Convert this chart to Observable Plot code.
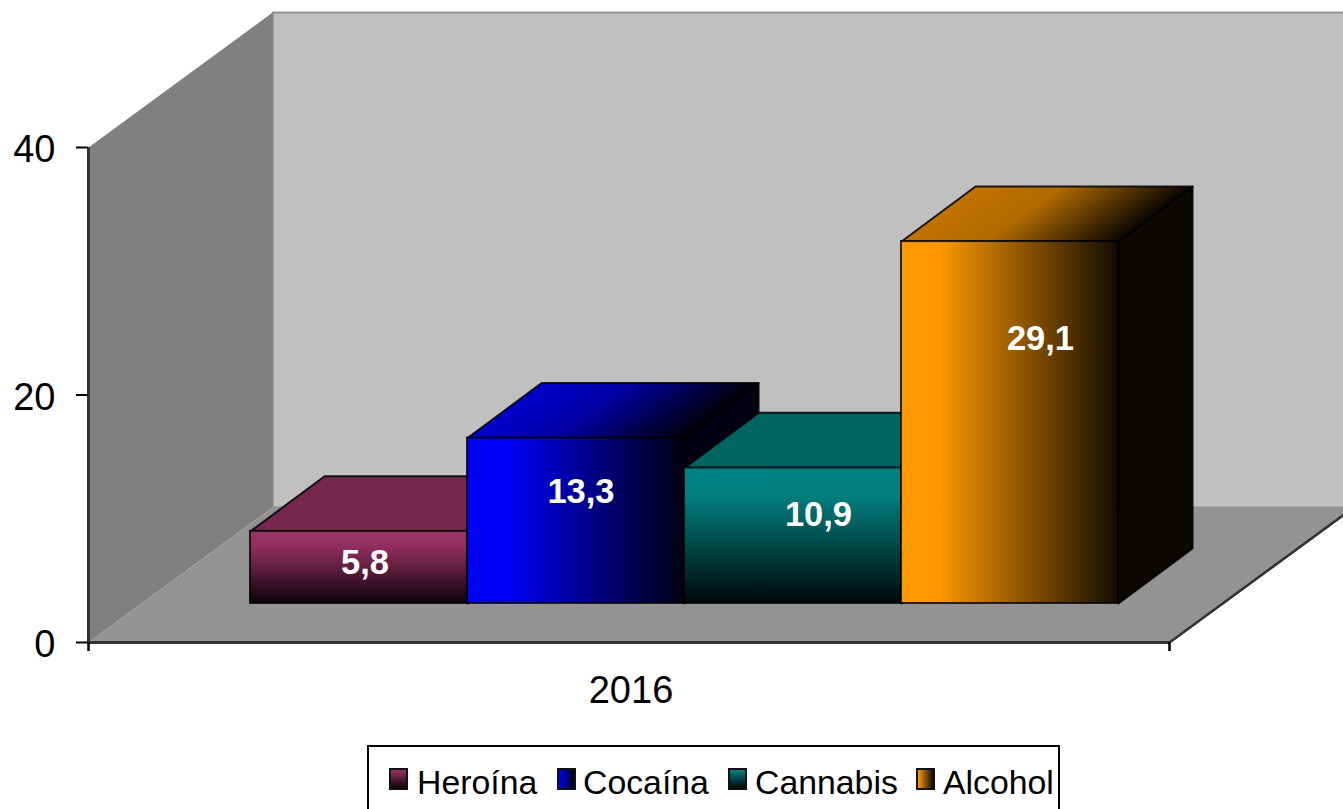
<!DOCTYPE html>
<html lang="es">
<head>
<meta charset="utf-8">
<script src="https://cdn.jsdelivr.net/npm/d3@7"></script>
<script src="https://cdn.jsdelivr.net/npm/@observablehq/plot@0.6"></script>
<style>
html,body{margin:0;padding:0;background:#fff;overflow:hidden;width:1343px;height:809px;font-family:"Liberation Sans",Arial,sans-serif}
#chart svg{display:block}
#legend{position:absolute;left:367px;top:745px;width:693px;height:70px;border:2.5px solid #000;border-bottom:none;box-sizing:border-box;font-size:33.8px;color:#000}
#legend span{position:absolute;white-space:nowrap;line-height:38px;top:16px}
#legend i{position:absolute;top:21px;width:15px;height:18px;border:2px solid #111;display:block}
</style>
</head>
<body>
<div id="chart"></div>
<div id="legend"></div>
<script>
// Data
const categories = ["Heroína", "Cocaína", "Cannabis", "Alcohol"];
const values = [5.8, 13.3, 10.9, 29.1];
const labels = ["5,8", "13,3", "10,9", "29,1"];
const years = ["2016"];
const yTicks = [0, 20, 40];

// Projection of the depth axis, in units of the x and y scales
const depthX = 0.852, depthY = 10.91;
const barFront = 0.289, barBack = 0.697, backNudge = -0.005;
const slots = 5, barStart = 0.503, barUnit = 1.0037, heightUnit = 1.005;
const px = (x, d) => x + d * depthX;
const py = (y, d) => y + d * depthY;

// Styling
const sideFill = ["#12030a", "#000012", "#001212", "#0a0800"];
const frontFill = ["url(#f0)", "url(#f1)", "url(#f2)", "url(#f3)"];
const topFill = ["#75274e", "url(#t1)", "#006463", "url(#t3)"];
const labelShift = [[6, -5], [5, -29], [25.5, -21], [30.5, -84]];

const grad = (id, [x1, y1, x2, y2], stops) =>
  `<linearGradient id="${id}" x1="${x1}" y1="${y1}" x2="${x2}" y2="${y2}">` +
  stops.map(([o, c]) => `<stop offset="${o}" stop-color="${c}"/>`).join("") + `</linearGradient>`;

const H = [0, 0, 1, 0], V = [0, 0, 0, 1], SHEAR = [0, 1, 0.695, 1.18];
const defs = () => {
  const g = document.createElementNS("http://www.w3.org/2000/svg", "g");
  g.innerHTML = "<defs>" +
    grad("f0", V, [[0, "#993366"], [0.2, "#932f60"], [1, "#0d0208"]]) +
    grad("f1", H, [[0, "#0000ff"], [0.18, "#0000f8"], [1, "#000010"]]) +
    grad("f2", V, [[0, "#008080"], [0.2, "#007f7f"], [1, "#000808"]]) +
    grad("f3", H, [[0, "#ff9900"], [0.18, "#fb9700"], [1, "#120b00"]]) +
    grad("t1", SHEAR, [[0, "#0000cc"], [0.4, "#0000a4"], [1, "#000008"]]) +
    grad("t3", SHEAR, [[0, "#c07300"], [0.4, "#b06a00"], [1, "#0a0600"]]) +
    "</defs>";
  return g;
};

// A closed face of vertices [x, y, depth]
const face = (pts, fill, stroke, strokeWidth = 2) =>
  Plot.line([...pts, pts[0]], {
    x: p => px(p[0], p[2]), y: p => py(p[1], p[2]),
    fill, stroke, strokeWidth, strokeOpacity: 0.85, curve: "linear-closed"
  });

const barMarks = values.flatMap((value, i) => {
  const v = value * heightUnit;
  const x1 = barStart + i * barUnit, x2 = x1 + barUnit;
  const b1 = x1 + backNudge, b2 = x2 + backNudge;
  return [
    face([[x2, 0, barFront], [b2, 0, barBack], [b2, v, barBack], [x2, v, barFront]], sideFill[i], "#000"),
    face([[x1, v, barFront], [x2, v, barFront], [b2, v, barBack], [b1, v, barBack]], topFill[i], "#000"),
    Plot.rect([v], {
      x1: () => px(x1, barFront), x2: () => px(x2, barFront),
      y1: () => py(0, barFront), y2: d => py(d, barFront),
      fill: frontFill[i], stroke: "#000", strokeWidth: 2, strokeOpacity: 0.8
    })
  ];
});

const labelMarks = values.map((v, i) =>
  Plot.text([labels[i]], {
    x: () => px(barStart + (i + 0.5) * barUnit, barFront),
    y: () => py(v / 2, barFront),
    text: d => d, fill: "#fff", fontWeight: "bold", fontSize: 34.5,
    dx: labelShift[i][0], dy: labelShift[i][1]
  })
);

const plot = Plot.plot({
  width: 1343, height: 745,
  marginLeft: 88, marginRight: 174, marginTop: 147, marginBottom: 103,
  style: {fontFamily: '"Liberation Sans",Arial,sans-serif', background: "#fff", color: "#000"},
  x: {domain: [0, slots]},
  y: {domain: [0, 40]},
  marks: [
    defs,
    // back wall, left wall, floor
    face([[0, 0, 1], [slots, 0, 1], [slots, 40, 1], [0, 40, 1]], "#c0c0c0", "#868686", 2),
    face([[0, 0, 0], [0, 40, 0], [0, 40, 1], [0, 0, 1]], "#808080", "none"),
    face([[0, 0, 0], [slots, 0, 0], [slots, 0, 1], [0, 0, 1]], "#939393", "none"),
    Plot.line([0, 1], {
      x: k => px(slots, k), y: k => py(0, k), stroke: "#333", strokeWidth: 2.5
    }),
    ...barMarks,
    ...labelMarks,
    Plot.ruleX([0], {y1: 0, y2: 40, stroke: "#333", strokeWidth: 3}),
    Plot.ruleY([0], {x1: 0, x2: slots, stroke: "#333", strokeWidth: 3}),
    Plot.axisY({ticks: yTicks, tickSize: 12, tickFormat: () => "", label: null, strokeWidth: 2, stroke: "#000"}),
    Plot.axisY({ticks: yTicks, tickSize: 0, tickPadding: 33, fontSize: 38, label: null, tickFormat: d => String(d), dy: 2.5}),
    Plot.axisX({ticks: [0, slots], tickSize: 9, tickFormat: () => "", label: null, strokeWidth: 2.5, stroke: "#000"}),
    Plot.text(years, {x: () => slots / 2, y: () => 0, text: d => d, fontSize: 38, dx: 2, dy: 48, fill: "#000"})
  ]
});
document.getElementById("chart").append(plot);

// Legend
const legend = document.getElementById("legend");
const swatchBg = [
  "linear-gradient(180deg,#993366,#0d0208)",
  "linear-gradient(90deg,#0000ff,#000010)",
  "linear-gradient(180deg,#008080,#000808)",
  "linear-gradient(90deg,#ff9900,#120b00)"
];
const swatchLeft = [20, 188, 359, 547];
const textLeft = [48, 214, 386, 574];
categories.forEach((c, i) => {
  const sw = document.createElement("i");
  sw.style.left = swatchLeft[i] + "px";
  sw.style.background = swatchBg[i];
  const t = document.createElement("span");
  t.style.left = textLeft[i] + "px";
  t.textContent = c;
  legend.append(sw, t);
});
</script>
</body>
</html>
